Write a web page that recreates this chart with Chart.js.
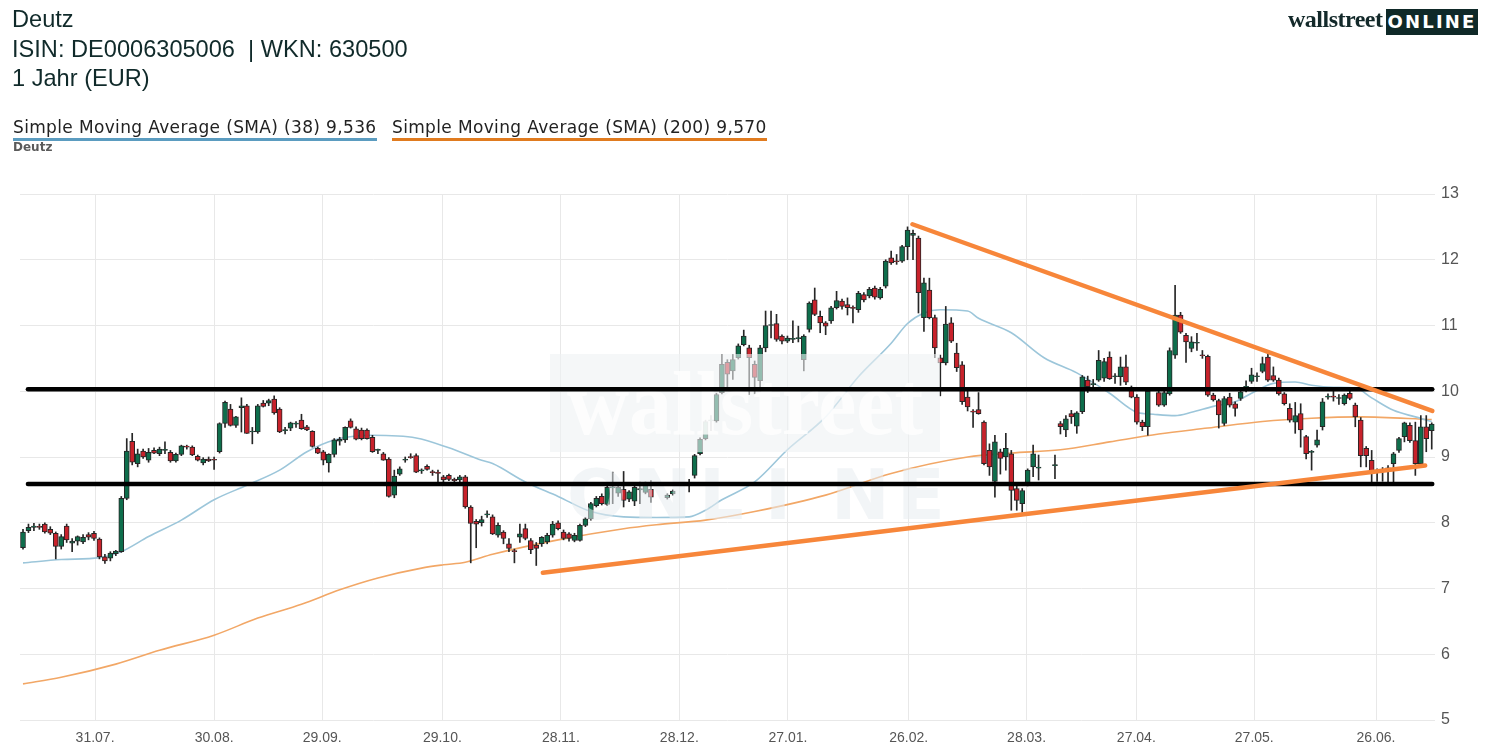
<!DOCTYPE html>
<html>
<head>
<meta charset="utf-8">
<script src="https://cdn.jsdelivr.net/npm/chart.js@4/dist/chart.umd.min.js"></script>
<style>
  html, body { margin: 0; padding: 0; background: #fff; }
  #wrap { position: relative; width: 1490px; height: 745px; overflow: hidden; }
  canvas { position: absolute; left: 0; top: 0; }
  .hd { position: absolute; left: 12px; font-family: "Liberation Sans", Arial, sans-serif; font-size: 23.6px; color: #102a2a; white-space: pre; }
  .lg { position: absolute; top: 117px; font-family: "DejaVu Sans", Verdana, sans-serif; font-size: 17px; letter-spacing: 0.35px; color: #222; white-space: pre; padding-bottom: 1px; line-height: 20px; }
  #sub { position: absolute; left: 13px; top: 140px; font-family: "DejaVu Sans", Verdana, sans-serif; font-weight: bold; font-size: 12px; color: #5a5a5a; }
  #logo1 { position: absolute; left: 1288px; top: 6px; font-family: "Liberation Serif", "DejaVu Serif", serif; font-weight: bold; font-size: 24px; color: #13292a; letter-spacing: -0.5px; }
  #logo2 { position: absolute; left: 1386px; top: 9px; width: 92px; height: 26px; background: #0f2928; color: #fff; font-family: "DejaVu Sans", sans-serif; font-weight: bold; font-size: 18px; letter-spacing: 2.2px; line-height: 26px; text-align: center; }
</style>
</head>
<body>
<div id="wrap">
  <canvas id="c" width="1490" height="745"></canvas>
  <div class="hd" style="top:6px">Deutz</div>
  <div class="hd" style="top:36px">ISIN: DE0006305006  | WKN: 630500</div>
  <div class="hd" style="top:65px">1 Jahr (EUR)</div>
  <div class="lg" id="lg1" style="left:13px; border-bottom:3px solid #5b9cc0;">Simple Moving Average (SMA) (38) 9,536</div>
  <div class="lg" id="lg2" style="left:392px; border-bottom:3px solid #e07b1f;">Simple Moving Average (SMA) (200) 9,570</div>
  <div id="sub">Deutz</div>
  <div id="logo1">wallstreet</div>
  <div id="logo2">ONLINE</div>
</div>
<script>
// ---- daily candles (trading-day slots), null = no quote ----
const opens = [
7.62,7.88,7.93,7.94,7.98,7.90,7.84,7.64,7.95,7.69,7.72,7.71,7.82,7.84,7.75,7.48,7.46,7.53,7.56,8.37,
9.24,8.90,9.09,8.95,9.10,9.05,9.10,9.07,8.94,9.04,9.16,9.15,9.01,8.91,8.97,8.96,9.08,9.51,9.73,9.48,
9.75,9.78,9.38,9.38,9.82,9.82,9.88,9.73,9.40,9.44,9.50,9.56,9.46,9.39,9.13,9.08,8.91,9.04,9.24,9.26,
9.55,9.43,9.41,9.41,9.30,9.10,9.05,8.97,8.42,8.74,8.95,9.00,9.02,8.79,8.86,8.78,8.76,8.70,8.72,8.66,
8.65,8.70,8.24,8.02,8.00,8.12,8.09,7.81,7.86,7.68,7.57,7.78,7.91,7.73,7.66,7.68,7.71,7.81,8.00,7.86,
7.83,7.73,7.73,7.96,8.06,8.26,8.40,8.28,8.53,8.45,8.51,8.36,8.33,8.50,8.46,8.51,null,null,8.38,8.44,
null,null,8.58,8.72,9.05,9.28,9.55,9.55,9.98,10.44,10.31,10.51,10.71,10.66,10.41,10.16,10.66,11.00,11.03,10.84,
10.76,10.79,10.80,10.48,10.94,11.39,11.14,11.04,11.07,11.27,11.37,11.32,11.27,11.24,11.47,11.45,11.57,11.42,11.60,12.03,
11.98,11.98,12.20,12.37,12.33,11.12,11.54,11.12,10.51,10.43,11.04,10.58,10.40,9.91,9.70,9.72,9.53,9.10,8.63,9.08,
9.00,9.05,8.52,8.29,8.59,8.85,8.83,null,null,8.87,9.51,9.41,9.66,9.47,9.69,10.17,10.10,10.17,10.20,10.52,
10.22,10.22,10.37,10.02,9.91,9.53,9.46,null,9.98,9.79,9.96,10.55,11.16,10.85,10.65,10.73,10.55,10.53,9.94,9.86,
9.51,9.91,9.81,9.89,10.06,10.15,10.22,10.30,10.52,10.24,10.17,9.96,9.74,9.53,9.66,9.31,9.07,9.18,9.46,9.91,
9.92,9.89,9.81,9.97,9.79,9.56,9.13,8.95,8.77,8.80,8.82,8.90,9.10,9.31,9.48,9.25,8.90,9.46,9.40
];
const highs = [
7.90,7.98,7.99,7.98,8.00,7.94,7.86,7.82,7.98,7.76,7.80,7.82,7.85,7.87,7.77,7.52,7.56,7.58,8.40,9.28,
9.36,9.12,9.12,9.13,9.14,9.15,9.23,9.10,9.06,9.18,9.18,9.17,9.03,8.99,9.00,9.00,9.52,9.85,9.80,9.62,
9.90,9.80,9.45,9.80,9.86,9.88,9.93,9.75,9.45,9.53,9.54,9.65,9.48,9.40,9.15,9.10,9.05,9.28,9.30,9.46,
9.58,9.46,9.44,9.43,9.33,9.12,9.07,8.99,8.80,8.85,9.00,9.05,9.05,8.82,8.88,8.80,8.80,8.72,8.74,8.68,
8.72,8.72,8.26,8.05,8.10,8.18,8.12,8.00,7.88,7.76,7.60,7.98,7.98,7.76,7.70,7.79,7.84,8.02,8.03,7.89,
7.85,7.84,7.98,8.08,8.31,8.40,8.44,8.56,8.77,8.56,8.78,8.49,8.56,8.62,8.62,8.64,null,null,8.44,8.50,
null,null,8.66,9.04,9.29,9.56,9.63,9.97,10.56,10.48,10.56,10.72,10.93,10.70,10.46,10.70,11.22,11.22,11.17,10.86,
10.84,11.07,10.99,10.86,11.36,11.57,11.22,11.06,11.29,11.52,11.40,11.42,11.30,11.52,11.50,11.58,11.60,11.58,12.00,12.13,
12.08,12.22,12.50,12.45,12.36,11.72,11.72,11.16,10.55,11.29,11.12,10.73,10.45,10.02,9.72,9.98,9.55,9.20,9.33,9.12,
9.36,9.10,8.56,8.52,8.82,9.18,9.03,null,null,9.03,9.54,9.63,9.71,9.69,10.24,10.23,10.18,10.62,10.50,10.60,
10.27,10.52,10.55,10.08,9.95,9.56,10.02,null,10.02,10.00,10.66,11.61,11.20,10.88,10.83,10.88,10.62,10.55,9.97,9.88,
9.92,9.97,9.84,10.00,10.16,10.35,10.28,10.52,10.62,10.37,10.20,9.98,9.81,9.83,9.81,9.33,9.10,9.41,9.89,9.96,
10.03,9.95,9.96,10.04,9.82,9.60,9.16,9.10,8.82,8.84,8.87,9.07,9.30,9.53,9.52,9.53,9.63,9.63,9.52
];
const lows = [
7.60,7.85,7.88,7.90,7.84,7.82,7.45,7.60,7.70,7.56,7.66,7.68,7.74,7.73,7.45,7.38,7.42,7.50,7.55,8.35,
8.88,8.85,8.98,8.92,9.05,9.02,9.05,8.92,8.92,9.02,9.12,9.02,8.94,8.88,8.93,8.81,9.06,9.45,9.47,9.45,
9.38,9.36,9.20,9.36,9.76,9.78,9.65,9.37,9.35,9.40,9.45,9.42,9.40,9.15,9.05,8.88,8.77,9.00,9.18,9.22,
9.44,9.26,9.26,9.27,9.07,9.05,8.95,8.39,8.38,8.72,8.92,8.98,8.76,8.75,8.80,8.72,8.60,8.62,8.64,8.58,
8.60,8.22,7.39,7.62,7.95,8.08,7.82,7.78,7.68,7.56,7.39,7.70,7.74,7.53,7.35,7.64,7.68,7.78,7.89,7.74,
7.72,7.71,7.72,7.94,8.04,8.24,8.27,8.26,8.29,8.40,8.24,8.32,8.26,8.29,8.44,8.31,null,null,8.36,8.42,
null,null,8.47,8.68,9.03,9.26,9.40,9.53,9.96,10.06,10.18,10.49,10.69,9.95,9.96,10.05,10.60,10.81,10.76,10.72,
10.74,10.74,10.75,10.31,10.90,11.15,10.89,10.86,11.03,11.25,11.25,11.16,11.04,11.20,11.36,11.42,11.40,11.40,11.57,11.93,
11.93,11.96,12.00,12.00,11.19,10.91,11.10,10.51,9.93,10.40,10.74,10.30,9.80,9.70,9.45,9.65,8.88,8.72,8.39,8.74,
8.80,8.19,8.19,8.16,8.56,8.70,8.65,null,null,8.67,9.35,9.31,9.51,9.36,9.66,9.98,10.05,10.15,10.15,10.18,
10.12,10.09,10.10,9.90,9.50,9.40,9.33,null,9.77,9.77,9.94,10.50,10.88,10.44,10.60,10.62,10.50,9.92,9.85,9.44,
9.48,9.76,9.62,9.86,9.99,10.12,10.15,10.28,10.15,10.15,9.94,9.79,9.53,9.36,9.15,8.97,8.80,9.15,9.41,9.88,
9.85,9.80,9.79,9.87,9.46,8.85,8.85,8.59,8.63,8.63,8.62,8.62,9.07,9.23,9.22,8.72,8.86,9.08,9.12
];
const closes = [
7.86,7.93,7.95,7.93,7.86,7.84,7.64,7.79,7.74,7.72,7.79,7.78,7.78,7.76,7.48,7.42,7.54,7.57,8.37,9.09,
8.92,9.05,9.00,9.07,9.06,9.12,9.10,8.94,9.04,9.17,9.15,9.03,8.95,8.97,8.94,8.95,9.51,9.83,9.48,9.61,
9.78,9.36,9.38,9.78,9.77,9.86,9.67,9.38,9.40,9.52,9.51,9.43,9.41,9.16,9.06,8.95,9.04,9.26,9.27,9.45,
9.45,9.27,9.28,9.28,9.08,9.10,8.95,8.40,8.71,8.82,8.95,8.99,8.77,8.79,8.81,8.76,8.75,8.65,8.66,8.64,
8.70,8.24,7.99,7.98,8.05,8.12,7.83,7.96,7.76,7.61,7.56,7.83,7.76,7.59,7.61,7.78,7.81,7.98,7.91,7.76,
7.76,7.81,7.96,8.06,8.29,8.37,8.29,8.54,8.54,8.54,8.34,8.47,8.54,8.52,8.59,8.39,null,null,8.42,8.48,
null,null,8.60,9.02,9.27,9.54,9.56,9.95,10.41,10.26,10.48,10.69,10.84,10.51,10.21,10.66,11.00,11.00,10.79,10.76,
10.81,10.79,10.81,10.84,11.34,11.17,11.04,10.99,11.27,11.38,11.29,11.27,11.26,11.49,11.39,11.55,11.43,11.55,11.98,11.95,
11.97,12.20,12.45,12.40,11.50,11.65,11.12,10.66,10.43,11.02,10.76,10.36,9.84,9.76,9.68,9.66,8.90,8.85,9.23,8.98,
9.13,8.49,8.34,8.49,8.80,9.05,8.84,null,null,8.88,9.46,9.58,9.61,9.67,10.22,10.07,10.11,10.47,10.45,10.19,
10.22,10.37,10.14,9.91,9.53,9.46,10.00,null,9.79,9.98,10.62,11.16,10.90,10.75,10.75,10.74,10.54,9.94,9.87,9.64,
9.89,9.79,9.74,9.99,10.07,10.25,10.23,10.42,10.17,10.17,9.96,9.81,9.56,9.63,9.41,9.05,9.08,9.26,9.84,9.91,
9.91,9.90,9.94,9.89,9.61,9.02,9.02,8.75,8.77,8.79,8.82,9.05,9.28,9.52,9.25,8.90,9.46,9.28,9.50
];

// ---- moving averages, read at sparse slots ----
const sma38Slots  = [0,7,14,18,23,29,35,41,47,52,57,64,72,78,84,86,92,98,104,110,116,122,125,128,134,140,147,153,159,162,165,168,173,175,181,187,193,199,204,207,211,214,218,222,225,229,233,236,240,244,247,251,255,258];
const sma38Values = [7.39,7.44,7.47,7.56,7.79,8.04,8.35,8.57,8.80,9.08,9.26,9.33,9.29,9.14,8.95,8.90,8.62,8.40,8.17,8.09,8.08,8.09,8.19,8.35,8.62,9.11,9.61,10.22,10.73,11.03,11.19,11.24,11.22,11.11,10.89,10.51,10.28,9.97,9.68,9.65,9.63,9.68,9.77,9.84,9.97,10.12,10.14,10.09,10.06,10.05,9.90,9.71,9.61,9.54];
const sma200Slots  = [0,7,17,25,35,43,51,58,65,73,77,81,86,98,110,116,125,134,147,159,173,181,190,199,208,217,227,236,245,258];
const sma200Values = [5.55,5.65,5.85,6.06,6.29,6.55,6.76,6.98,7.16,7.31,7.36,7.40,7.52,7.74,7.91,7.97,8.04,8.17,8.42,8.75,9.00,9.06,9.11,9.23,9.35,9.44,9.54,9.59,9.61,9.57];

// ---- drawn trend lines: [slot, price] ----
const resistanceLevel = 10.03;
const supportLevel = 8.59;
const levelSpan = [0.9, 258.1];
const downTrend = [[162.9, 12.54], [258.1, 9.70]];
const upTrend = [[95.2, 7.24], [256.8, 8.87]];

// ---- x-axis tick dates (fractional slots, ticks fall between sessions) ----
const tickLabels = ['31.07.', '30.08.', '29.09.', '29.10.', '28.11.', '28.12.', '27.01.', '26.02.', '28.03.', '27.04.', '27.05.', '26.06.'];
const tickSlots  = [13.2, 35.0, 54.8, 76.8, 98.5, 120.2, 140.1, 162.2, 183.8, 203.9, 225.5, 247.8];
const yTicks = [5, 6, 7, 8, 9, 10, 11, 12, 13];

const GREEN = '#0e6e4c', RED = '#c8222b', EDGE = '#262626';

const wickData = [], bodyData = [];
for (let i = 0; i < closes.length; i++) {
  if (closes[i] == null) continue;
  wickData.push({ x: i, y: [lows[i], highs[i]] });
  bodyData.push({ x: i, y: [opens[i], closes[i]], up: closes[i] >= opens[i] });
}
const sma38 = sma38Slots.map((s, k) => ({ x: s, y: sma38Values[k] }));
const sma200 = sma200Slots.map((s, k) => ({ x: s, y: sma200Values[k] }));

const watermark = {
  id: 'watermark',
  afterDatasetDraw(chart, args) {
    if (chart.data.datasets[args.index].label !== 'body') return;
    const ctx = chart.ctx, a = chart.chartArea;
    const x0 = a.left + 530, y0 = a.top + 160, w = 390, h = 98;
    ctx.save();
    ctx.fillStyle = 'rgba(238,241,244,0.6)';
    ctx.fillRect(x0, y0, w, h);
    ctx.font = 'bold 90px "Liberation Serif", serif';
    const t = 'wallstreet';
    const m = ctx.measureText(t).width;
    ctx.translate(x0 + 17, y0 + 80);
    ctx.scale(356 / m, 1);
    ctx.fillStyle = 'rgba(255,255,255,0.8)';
    ctx.fillText(t, 0, 0);
    ctx.restore();
    ctx.save();
    ctx.font = 'bold 70px "DejaVu Sans", sans-serif';
    ctx.fillStyle = 'rgba(232,236,240,0.55)';
    'ONLINE'.split('').forEach((ch, k) => {
      ctx.fillText(ch, x0 + 17 + k * 66, y0 + 165);
    });
    ctx.restore();
  }
};

new Chart(document.getElementById('c'), {
  data: {
    datasets: [
      { type: 'line', label: 'sma200', data: sma200, borderColor: '#f2a766', borderWidth: 1.6, pointRadius: 0, cubicInterpolationMode: 'monotone', order: 6 },
      { type: 'line', label: 'sma38', data: sma38, borderColor: '#9cc6da', borderWidth: 1.6, pointRadius: 0, cubicInterpolationMode: 'monotone', order: 5 },
      { type: 'bar', label: 'wick', data: wickData, backgroundColor: EDGE, barThickness: 1, grouped: false, order: 4 },
      { type: 'bar', label: 'body', data: bodyData, grouped: false, order: 3, barThickness: 5, minBarLength: 1,
        backgroundColor: c => (c.raw && c.raw.up) ? GREEN : RED, borderColor: EDGE, borderWidth: 1, borderSkipped: false },
      { type: 'line', label: 'res', data: levelSpan.map(s => ({ x: s, y: resistanceLevel })), borderColor: '#000', borderWidth: 4.5, pointRadius: 0, borderCapStyle: 'round', order: 1 },
      { type: 'line', label: 'sup', data: levelSpan.map(s => ({ x: s, y: supportLevel })), borderColor: '#000', borderWidth: 4.5, pointRadius: 0, borderCapStyle: 'round', order: 1 },
      { type: 'line', label: 'down', data: downTrend.map(p => ({ x: p[0], y: p[1] })), borderColor: '#f7863a', borderWidth: 4.5, pointRadius: 0, borderCapStyle: 'round', order: 0 },
      { type: 'line', label: 'up', data: upTrend.map(p => ({ x: p[0], y: p[1] })), borderColor: '#f7863a', borderWidth: 4.5, pointRadius: 0, borderCapStyle: 'round', order: 0 }
    ]
  },
  options: {
    responsive: false,
    animation: false,
    layout: { padding: { left: 20, top: 194, right: 0, bottom: 0 } },
    plugins: { legend: { display: false }, tooltip: { enabled: false } },
    scales: {
      x: {
        type: 'linear', min: -0.55, max: 258.6, offset: false,
        afterBuildTicks: s => { s.ticks = tickSlots.map(v => ({ value: v })); },
        afterFit: s => { s.height = 25; },
        ticks: { autoSkip: false, maxRotation: 0, padding: 10, color: '#555', font: { family: '"Liberation Sans", Arial, sans-serif', size: 14 },
                 callback: (v, i) => tickLabels[i] },
        grid: { color: '#e8e8e8', drawTicks: false, offset: false },
        border: { display: false }
      },
      y: {
        position: 'right', min: 5, max: 13,
        afterBuildTicks: s => { s.ticks = yTicks.map(v => ({ value: v })); },
        afterFit: s => { s.width = 55; },
        ticks: { padding: 6, color: '#555', font: { family: '"Liberation Sans", Arial, sans-serif', size: 16 } },
        grid: { color: '#e8e8e8', drawTicks: false },
        border: { display: false }
      }
    }
  },
  plugins: [watermark]
});
</script>
</body>
</html>
